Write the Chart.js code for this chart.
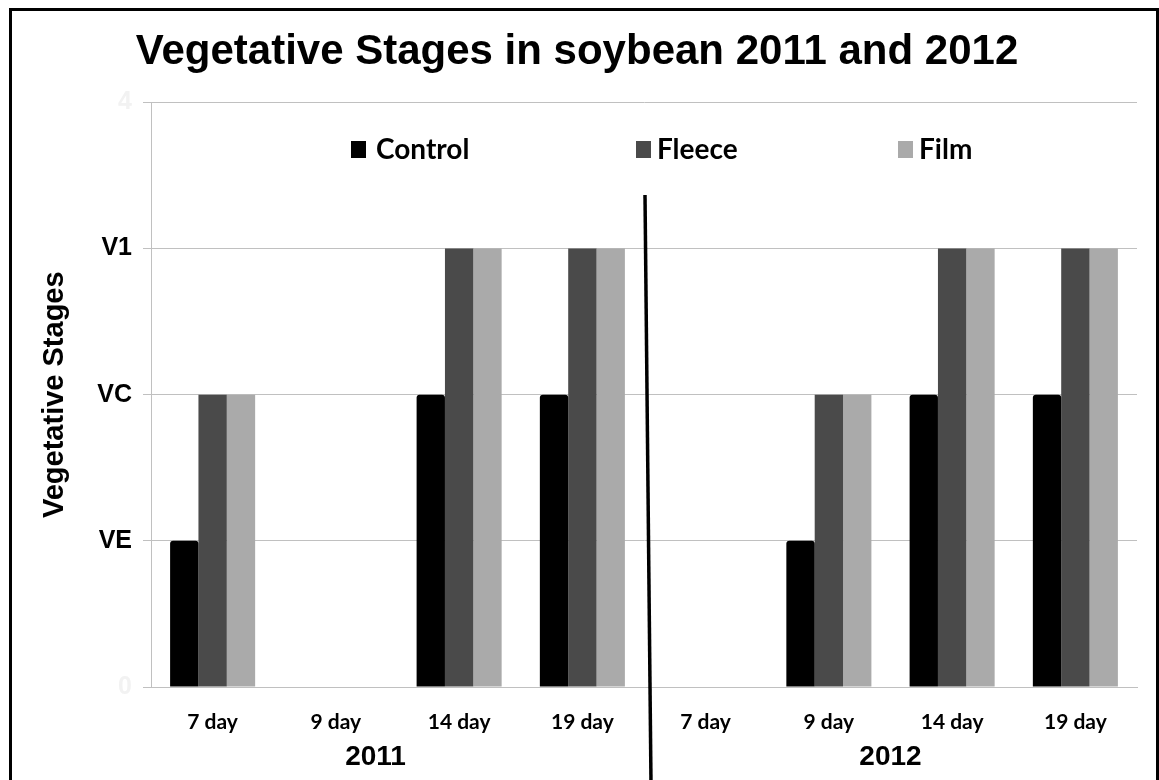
<!DOCTYPE html>
<html>
<head>
<meta charset="utf-8">
<script src="https://cdn.jsdelivr.net/npm/chart.js@4"></script>
<style>
  html, body { margin: 0; padding: 0; background: #fff; }
  #wrap { width: 1159px; height: 780px; position: relative; }
</style>
</head>
<body>
<div id="wrap"><canvas id="vegChart" width="1159" height="780"></canvas></div>
<script>
// data: 0 = none, 1 = VE, 2 = VC, 3 = V1
const dayLabels   = ['7 day', '9 day', '14 day', '19 day', '7 day', '9 day', '14 day', '19 day'];
const yearLabels  = ['2011', '2012'];
const stageLabels = ['0', 'VE', 'VC', 'V1', '4'];
const controlVals = [1, 0, 2, 2, 0, 1, 2, 2];
const fleeceVals  = [2, 0, 3, 3, 0, 2, 3, 3];
const filmVals    = [2, 0, 3, 3, 0, 2, 3, 3];

const GRID = '#c0c0c0';

// legend drawn inside the plot, plus year labels, divider and frame
const extras = {
  id: 'extras',
  afterDraw(chart) {
    const ctx = chart.ctx;
    const x = chart.scales.x;
    ctx.save();

    // frame round the picture
    ctx.fillStyle = '#000';
    ctx.fillRect(9, 8, 3, 772);
    ctx.fillRect(9, 8, 1150, 3);
    ctx.fillRect(1156, 8, 3, 772);

    // legend
    const items = [
      { label: 'Control', color: '#000000', bx: 351, tx: 376 },
      { label: 'Fleece',  color: '#4a4a4a', bx: 636, tx: 657 },
      { label: 'Film',    color: '#aaaaaa', bx: 898, tx: 919 }
    ];
    ctx.font = 'bold 28px Lato';
    ctx.textBaseline = 'middle';
    items.forEach(it => {
      ctx.fillStyle = it.color;
      ctx.fillRect(it.bx, 141, 15, 17);
      ctx.fillStyle = '#000';
      ctx.fillText(it.label, it.tx, 150);
    });

    // year labels under each half
    ctx.font = 'bold 28px "Liberation Sans"';
    ctx.textAlign = 'center';
    ctx.textBaseline = 'middle';
    const half = dayLabels.length / 2;
    yearLabels.forEach((yl, i) => {
      const a = x.getPixelForValue(i * half);
      const b = x.getPixelForValue(i * half + half - 1);
      ctx.fillText(yl, (a + b) / 2 - (i === 0 ? 22 : 0), 757);
    });

    // divider between the two years
    const mid = (x.getPixelForValue(half - 1) + x.getPixelForValue(half)) / 2;
    ctx.strokeStyle = '#000';
    ctx.lineWidth = 3.5;
    ctx.beginPath();
    ctx.moveTo(mid + 1, 195);
    ctx.lineTo(mid + 7, 782);
    ctx.stroke();

    ctx.restore();
  }
};

const chart = new Chart(document.getElementById('vegChart'), {
  type: 'bar',
  data: {
    labels: dayLabels,
    datasets: [
      { label: 'Control', data: controlVals, backgroundColor: '#000000', borderRadius: 3 },
      { label: 'Fleece',  data: fleeceVals,  backgroundColor: '#4a4a4a' },
      { label: 'Film',    data: filmVals,    backgroundColor: '#aaaaaa' }
    ]
  },
  options: {
    responsive: false,
    animation: false,
    devicePixelRatio: 1,
    layout: { padding: { left: 17, right: 22, top: 10, bottom: 0 } },
    datasets: { bar: { barPercentage: 1, categoryPercentage: 0.69 } },
    plugins: {
      legend: { display: false },
      tooltip: { enabled: false },
      title: {
        display: true,
        text: 'Vegetative Stages in soybean 2011 and 2012',
        color: '#000',
        font: { family: '"Liberation Sans"', size: 42, weight: 'bold' },
        padding: { top: 17, bottom: 25 }
      }
    },
    scales: {
      x: {
        grid: { display: false },
        border: { color: GRID },
        ticks: {
          color: '#000',
          font: { family: 'Lato', size: 21, weight: 'bold' },
          padding: 15
        },
        afterFit(s) { s.height = 93; }
      },
      y: {
        min: 0,
        max: 4,
        ticks: {
          stepSize: 1,
          padding: 11,
          color: c => (c.tick && (c.tick.value === 0 || c.tick.value === 4)) ? '#f2f2f2' : '#000',
          font: { family: '"Liberation Sans"', size: 25, weight: 'bold' },
          callback: v => stageLabels[v]
        },
        grid: { color: GRID, tickLength: 8, tickColor: GRID },
        border: { color: GRID },
        title: {
          display: true,
          text: 'Vegetative Stages',
          color: '#000',
          font: { family: '"Liberation Sans"', size: 29, weight: 'bold' },
          padding: { top: 21, bottom: 10 }
        },
        afterFit(s) { s.width = 134; }
      }
    }
  },
  plugins: [extras]
});
</script>
</body>
</html>
